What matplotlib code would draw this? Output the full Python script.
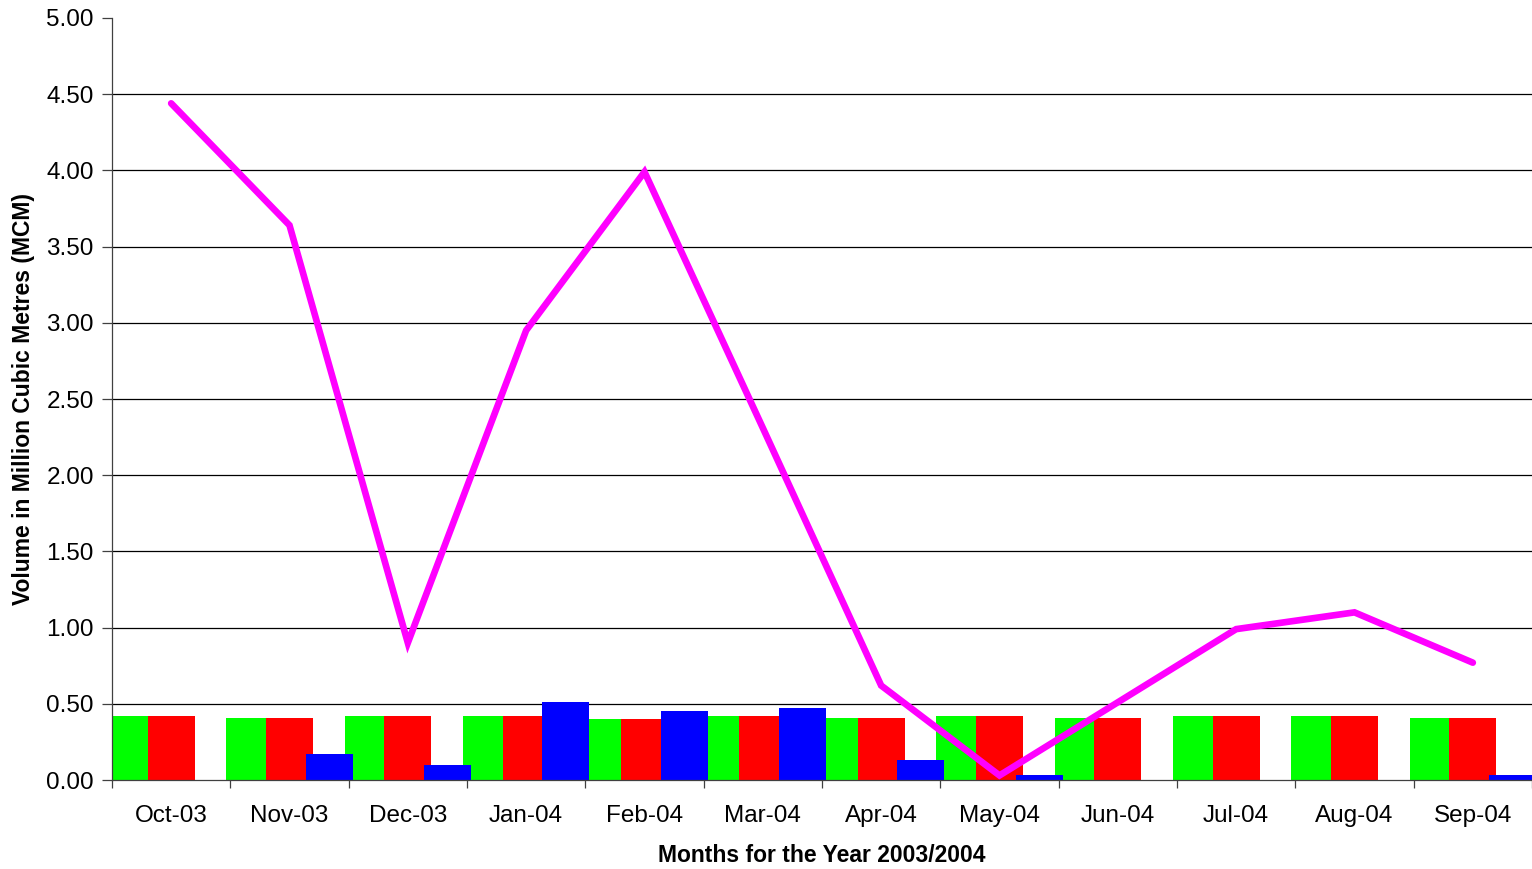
import numpy as np
import matplotlib.pyplot as plt

plt.rcParams['font.family'] = ['Liberation Sans', 'DejaVu Sans']

months = ['Oct-03', 'Nov-03', 'Dec-03', 'Jan-04', 'Feb-04', 'Mar-04',
          'Apr-04', 'May-04', 'Jun-04', 'Jul-04', 'Aug-04', 'Sep-04']
green = [0.42, 0.41, 0.42, 0.42, 0.40, 0.42, 0.41, 0.42, 0.41, 0.42, 0.42, 0.41]
red   = [0.42, 0.41, 0.42, 0.42, 0.40, 0.42, 0.41, 0.42, 0.41, 0.42, 0.42, 0.41]
blue  = [0.00, 0.17, 0.10, 0.51, 0.45, 0.47, 0.13, 0.03, 0.00, 0.00, 0.00, 0.03]
line  = [4.44, 3.64, 0.90, 2.95, 3.99, 2.31, 0.62, 0.03, 0.51, 0.99, 1.10, 0.77]

fig = plt.figure(figsize=(15.32, 8.69), dpi=100)
ax = fig.add_axes([0.0731, 0.1024, 0.9269, 0.8769])

x = np.arange(len(months))
w = 0.397
off = 0.334
ax.bar(x - off, green, w, color='#00ff00', zorder=2)
ax.bar(x, red, w, color='#ff0000', zorder=3)
ax.bar(x + off, blue, w, color='#0000ff', zorder=4)
ax.plot(x, line, color='#ff00ff', lw=4.8, solid_capstyle='round',
        solid_joinstyle='miter', zorder=5)

ax.set_xlim(-0.5, len(months) - 0.5)
ax.set_ylim(0, 5)
ax.set_yticks(np.arange(0, 5.01, 0.5))
ax.set_yticklabels(['%.2f' % v for v in np.arange(0, 5.01, 0.5)], fontsize=17.5)
for v in np.arange(0.5, 4.51, 0.5):
    ax.axhline(v, color='black', lw=0.9, zorder=1)

ax.set_xticks(x)
ax.set_xticklabels(months, fontsize=17.5)
ax.set_xticks(np.arange(-0.5, len(months)), minor=True)
ax.tick_params(axis='x', which='major', length=0, pad=18)
ax.tick_params(axis='x', which='minor', length=6, width=0.9, color='#404040')
ax.tick_params(axis='y', length=7, width=0.9, color='#404040', pad=6)

for s in ['top', 'right']:
    ax.spines[s].set_visible(False)
ax.spines['left'].set_color('#404040')
ax.spines['bottom'].set_color('#404040')
ax.spines['left'].set_linewidth(0.9)
ax.spines['bottom'].set_linewidth(0.9)
ax.spines['bottom'].set_zorder(6)

ax.set_xlabel('Months for the Year 2003/2004', fontsize=16.5, fontweight='bold', labelpad=12)
ax.set_ylabel('Volume in Million Cubic Metres (MCM)', fontsize=16.5, fontweight='bold', labelpad=8)

fig.savefig('out.png', dpi=100)
